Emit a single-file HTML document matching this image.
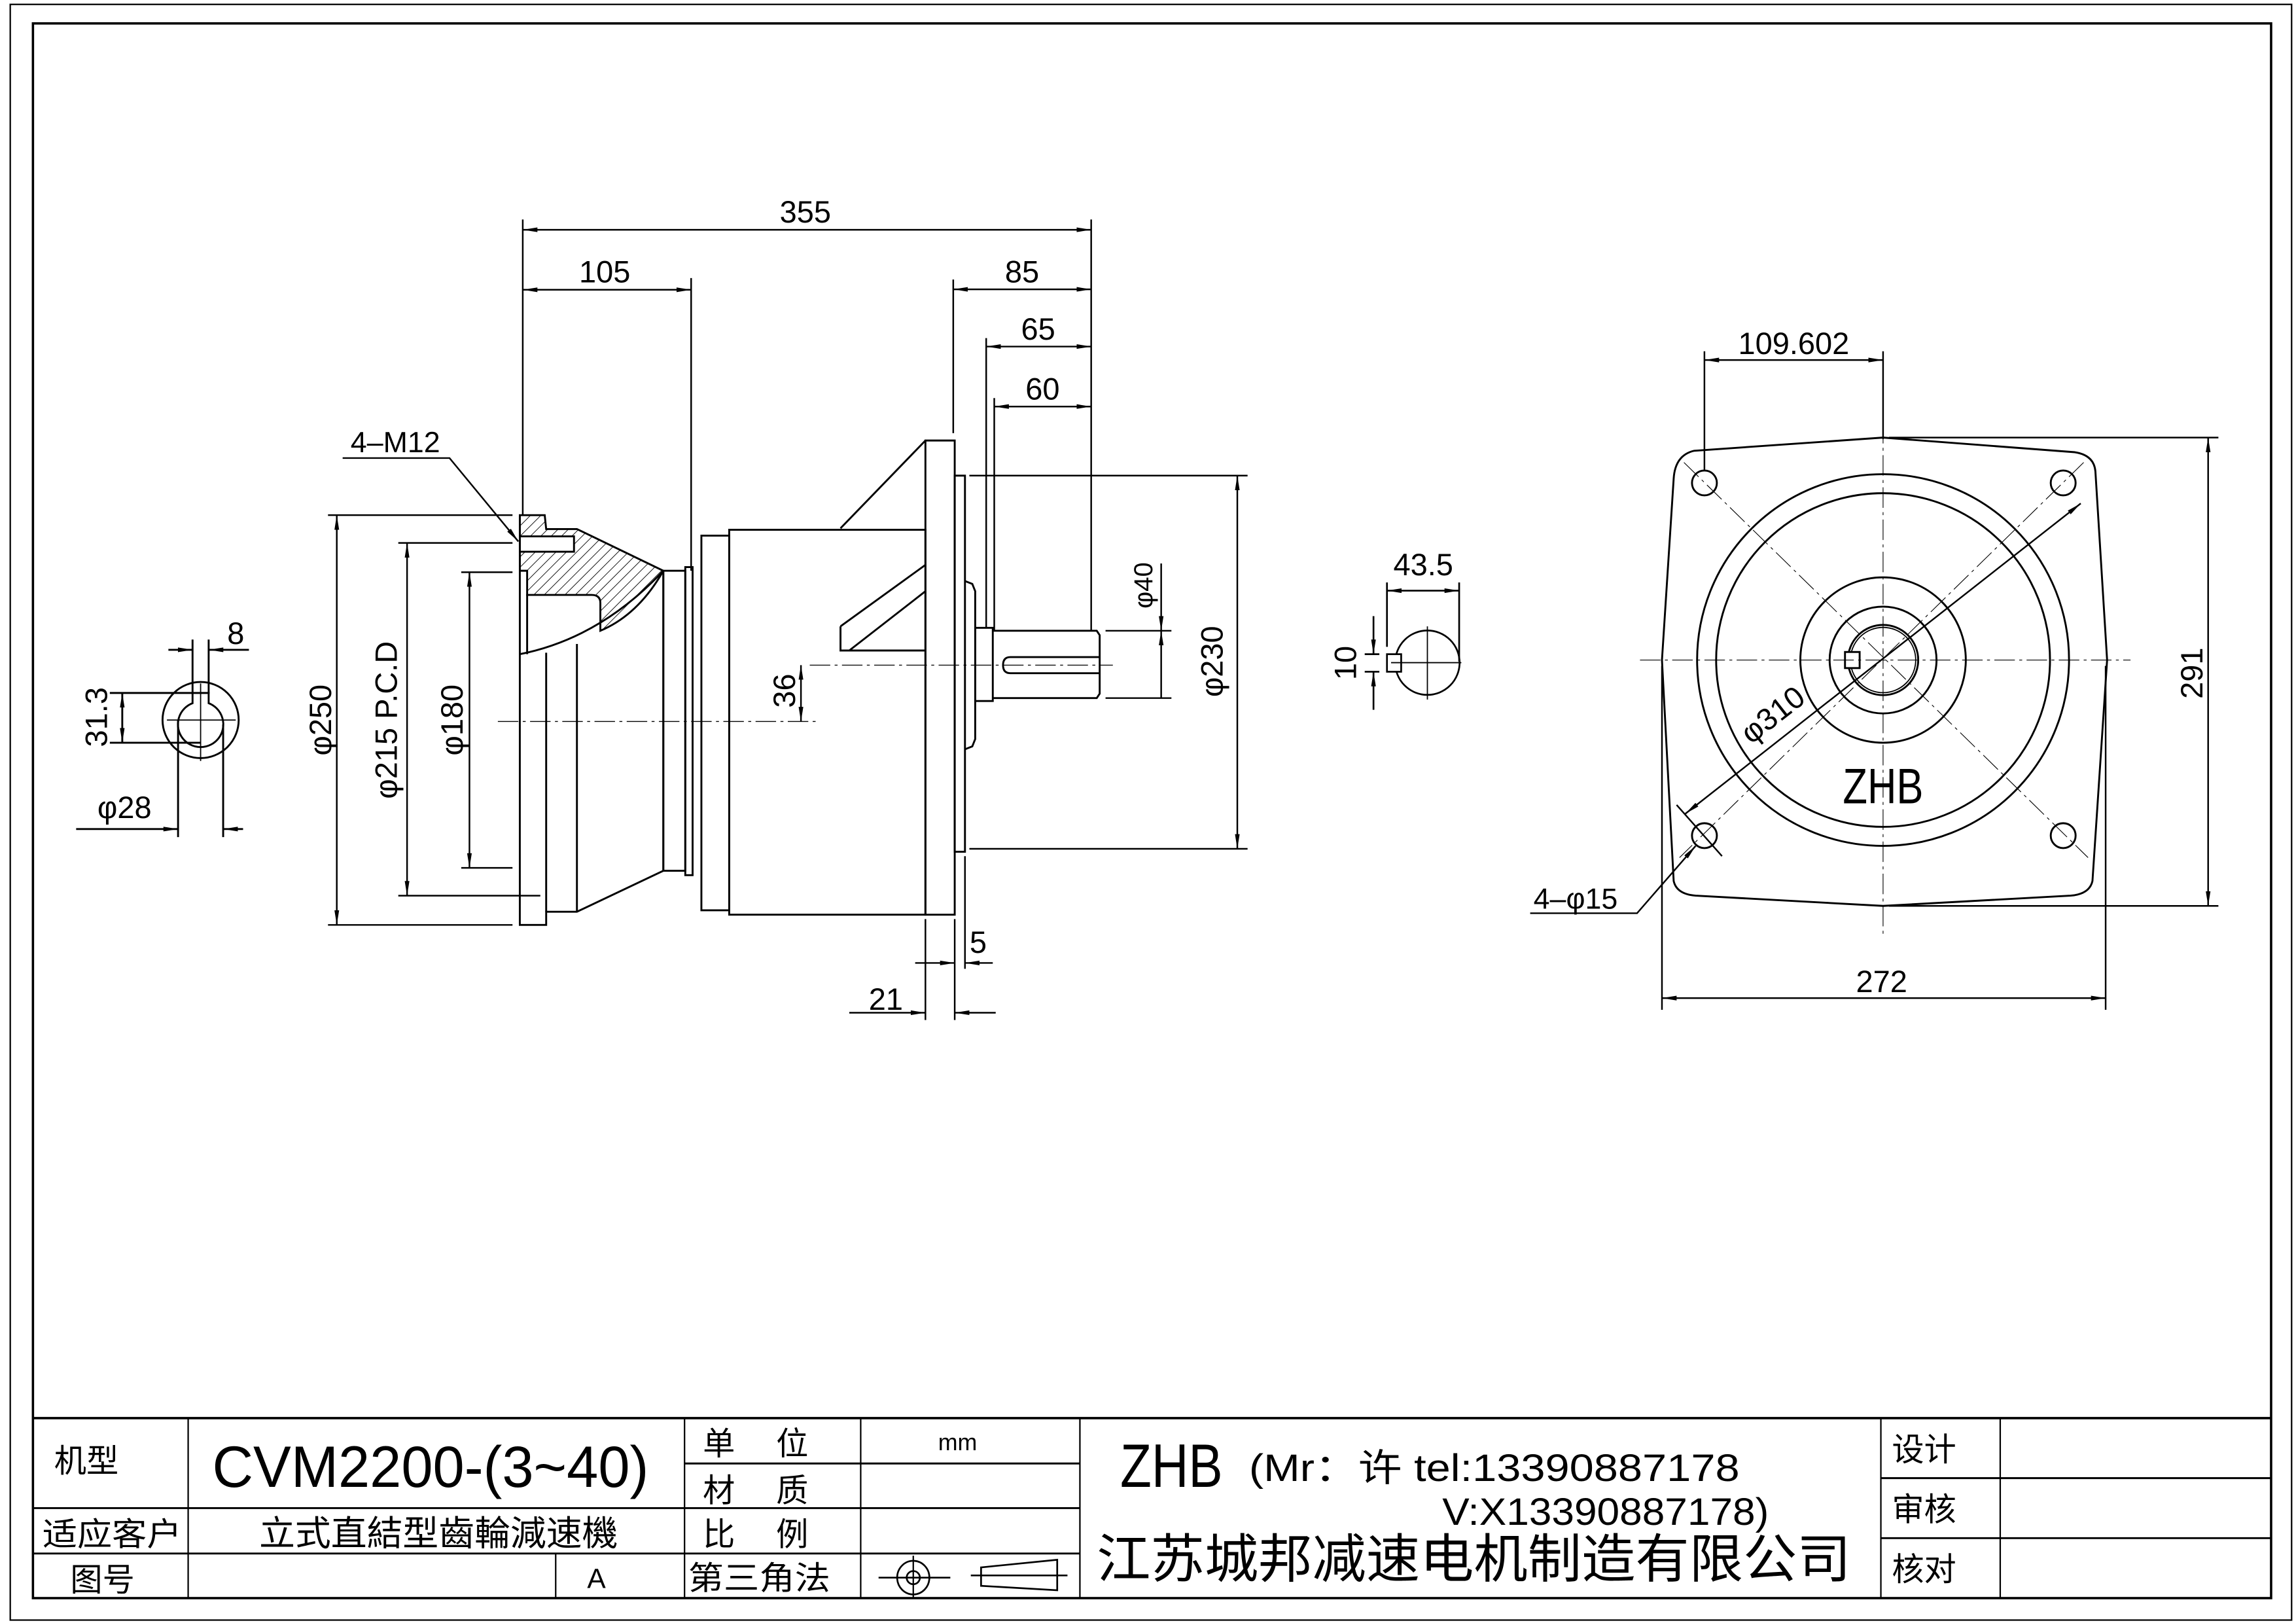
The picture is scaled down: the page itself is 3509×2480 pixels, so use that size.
<!DOCTYPE html>
<html><head><meta charset="utf-8"><style>
html,body{margin:0;padding:0;background:#fff;}
svg{display:block;}
text{font-family:"Liberation Sans","Noto Sans CJK SC",sans-serif;fill:#000;}
</style></head><body>
<svg width="3509" height="2480" viewBox="0 0 1568 1109" preserveAspectRatio="none" xmlns="http://www.w3.org/2000/svg">
<defs>
<marker id="a" viewBox="0 0 10 4" refX="10" refY="2" markerWidth="10" markerHeight="4" markerUnits="userSpaceOnUse" orient="auto-start-reverse"><path d="M0,0.4 L10,2 L0,3.6Z" fill="#000"/></marker>
<pattern id="h" width="5" height="5" patternUnits="userSpaceOnUse" patternTransform="rotate(45)"><line x1="0" y1="0" x2="0" y2="5" stroke="#000" stroke-width="0.8"/></pattern>
</defs>
<rect width="1568" height="1109" fill="#fff"/>
<!-- frames -->
<rect x="7" y="3" width="1558" height="1104" fill="none" stroke="#000" stroke-width="1"/>
<rect x="22.5" y="16" width="1528.5" height="1076" fill="none" stroke="#000" stroke-width="1.6"/>

<!-- title block -->
<g stroke="#000" fill="none">
<line x1="22.5" y1="969" x2="1551" y2="969" stroke-width="1.6"/>
<line x1="22.5" y1="1030.5" x2="737.5" y2="1030.5" stroke-width="1.3"/>
<line x1="22.5" y1="1061.5" x2="737.5" y2="1061.5" stroke-width="1.3"/>
<line x1="467.5" y1="1000" x2="737.5" y2="1000" stroke-width="1.3"/>
<line x1="128.5" y1="969" x2="128.5" y2="1092" stroke-width="1"/>
<line x1="379.5" y1="1061.5" x2="379.5" y2="1092" stroke-width="1"/>
<line x1="467.5" y1="969" x2="467.5" y2="1092" stroke-width="1"/>
<line x1="587.8" y1="969" x2="587.8" y2="1092" stroke-width="1"/>
<line x1="737.5" y1="969" x2="737.5" y2="1092" stroke-width="1"/>
<line x1="1284.5" y1="969" x2="1284.5" y2="1092" stroke-width="1"/>
<line x1="1366" y1="969" x2="1366" y2="1092" stroke-width="1"/>
<line x1="1284.5" y1="1010" x2="1551" y2="1010" stroke-width="1.3"/>
<line x1="1284.5" y1="1051" x2="1551" y2="1051" stroke-width="1.3"/>
<!-- projection symbol -->
<ellipse cx="623.7" cy="1078" rx="11" ry="11.5" stroke-width="1.2"/>
<circle cx="623.7" cy="1078" r="4.5" stroke-width="1.2"/>
<line x1="600" y1="1078" x2="649" y2="1078" stroke-width="1.2"/>
<line x1="623.7" y1="1063" x2="623.7" y2="1092" stroke-width="1"/>
<path d="M670,1071 L722,1065.8 L722,1086.6 L670,1083.6Z" stroke-width="1.2"/>
<line x1="663" y1="1076.5" x2="729" y2="1076.5" stroke-width="1.2"/>
</g>
<g font-size="22">
<text x="37" y="1006">机型</text>
<text x="145" y="1016" font-size="40" textLength="298" lengthAdjust="spacingAndGlyphs">CVM2200-(3~40)</text>
<text x="29" y="1056" textLength="95" lengthAdjust="spacingAndGlyphs">适应客户</text>
<text x="177" y="1056" font-size="24" textLength="245" lengthAdjust="spacingAndGlyphs">立式直結型齒輪減速機</text>
<text x="48" y="1087">图号</text>
<text x="401" y="1085" font-size="19">A</text>
<text x="480" y="994">单</text><text x="530" y="994">位</text>
<text x="480" y="1026">材</text><text x="530" y="1026">质</text>
<text x="480" y="1056">比</text><text x="530" y="1056">例</text>
<text x="470" y="1086" textLength="97" lengthAdjust="spacingAndGlyphs">第三角法</text>
<text x="654" y="991" font-size="16" text-anchor="middle">mm</text>
<text x="765" y="1016" font-size="42" textLength="70" lengthAdjust="spacingAndGlyphs">ZHB</text>
<text x="853" y="1012" font-size="26" textLength="335" lengthAdjust="spacingAndGlyphs">(Mr：许 tel:13390887178</text>
<text x="985" y="1042" font-size="26" textLength="223" lengthAdjust="spacingAndGlyphs">V:X13390887178)</text>
<text x="749" y="1078" font-size="36" textLength="515" lengthAdjust="spacingAndGlyphs">江苏城邦减速电机制造有限公司</text>
<text x="1292" y="998">设计</text>
<text x="1292" y="1039">审核</text>
<text x="1292" y="1080">核对</text>
</g>

<!-- LEFT shaft end view -->
<g stroke="#000" fill="none" stroke-width="1.3">
<circle cx="137" cy="492" r="26"/>
<path d="M131.5,480.5 L131.5,473.5 L142.5,473.5 L142.5,480.5 A15.5,15.5 0 1 1 131.5,480.5Z"/>
<line x1="114" y1="492" x2="161" y2="492" stroke-width="0.8"/>
<line x1="137" y1="467" x2="137" y2="520" stroke-width="0.8"/>
<line x1="131.5" y1="437" x2="131.5" y2="474"/>
<line x1="142.5" y1="437" x2="142.5" y2="474"/>
<line x1="115" y1="444" x2="131.5" y2="444" marker-end="url(#a)"/>
<line x1="170" y1="444" x2="142.5" y2="444" marker-end="url(#a)"/>
<line x1="75" y1="473.5" x2="131" y2="473.5"/>
<line x1="75" y1="507.5" x2="137" y2="507.5"/>
<line x1="83.5" y1="473.5" x2="83.5" y2="507.5" marker-start="url(#a)" marker-end="url(#a)"/>
<line x1="121.6" y1="492" x2="121.6" y2="572"/>
<line x1="152.4" y1="495" x2="152.4" y2="572"/>
<line x1="52" y1="566.5" x2="121.6" y2="566.5" marker-end="url(#a)"/>
<line x1="166" y1="566.5" x2="152.4" y2="566.5" marker-end="url(#a)"/>
</g>
<g font-size="21">
<text x="161" y="440" text-anchor="middle">8</text>
<text transform="translate(73,490) rotate(-90)" text-anchor="middle">31.3</text>
<text x="85" y="559" text-anchor="middle">φ28</text>
</g>

<!-- MIDDLE side view -->
<g stroke="#000" fill="none" stroke-width="1.3">
<!-- hatched section -->
<path d="M355,352 L372,352 L373,361.5 L394,361.5 L453,390 Q436,420 410,431 L410,412 Q410,406.5 404,406.5 L360,406.5 L360,390 L355,390Z" fill="url(#h)"/>
<rect x="355" y="366.5" width="37" height="10.5" fill="#fff"/>
<path d="M453,390 Q410,436 355,447"/>
<!-- left flange -->
<path d="M355,352 L355,632 L373,632 L373,623 L394,623 L453,595 L453,390"/>
<line x1="360" y1="406" x2="360" y2="447"/>
<line x1="373" y1="446" x2="373" y2="623"/>
<line x1="394" y1="440" x2="394" y2="623"/>
<!-- rings -->
<rect x="453" y="390" width="15" height="205"/>
<rect x="468" y="387.5" width="5" height="210.5"/>
<rect x="479" y="366" width="19" height="256"/>
<rect x="498" y="362" width="134" height="263"/>
<!-- right flange -->
<path d="M632,301 L652,301 L652,625 L632,625Z"/>
<line x1="574" y1="361" x2="632" y2="301"/>
<path d="M574,428 L632,386 M574,428 L574,444.5 L632,444.5 M580,444.5 L632,404"/>
<rect x="652" y="325" width="7" height="257"/>
<path d="M659,397 L664,399 L666,404 L666,505 L664,510 L659,512"/>
<rect x="666" y="429" width="12" height="50"/>
<path d="M678,431 L749,431 L751,434 L751,474 L749,477 L678,477"/>
<path d="M690,449 L751,449 M690,460 L751,460 M690,449 Q685,449 685,454.5 Q685,460 690,460"/>
</g>
<!-- centerlines -->
<g stroke="#000" stroke-width="0.6" fill="none" stroke-dasharray="14,3,2,3">
<line x1="340" y1="493" x2="560" y2="493"/>
<line x1="553" y1="454.5" x2="760" y2="454.5"/>
</g>
<!-- middle dims -->
<g stroke="#000" fill="none" stroke-width="1.1">
<line x1="357" y1="150" x2="357" y2="352"/>
<line x1="472" y1="190" x2="472" y2="390"/>
<line x1="651" y1="191" x2="651" y2="296"/>
<line x1="673.5" y1="231" x2="673.5" y2="429"/>
<line x1="679" y1="272" x2="679" y2="431"/>
<line x1="745.2" y1="150" x2="745.2" y2="431"/>
<line x1="357" y1="157" x2="745.2" y2="157" marker-start="url(#a)" marker-end="url(#a)"/>
<line x1="357" y1="198" x2="472" y2="198" marker-start="url(#a)" marker-end="url(#a)"/>
<line x1="651" y1="197.7" x2="745.2" y2="197.7" marker-start="url(#a)" marker-end="url(#a)"/>
<line x1="673.5" y1="236.8" x2="745.2" y2="236.8" marker-start="url(#a)" marker-end="url(#a)"/>
<line x1="679" y1="277.8" x2="745.2" y2="277.8" marker-start="url(#a)" marker-end="url(#a)"/>
<!-- 4-M12 leader -->
<polyline points="234,313 307,313 354,370" marker-end="url(#a)"/>
<!-- diameters left -->
<line x1="224" y1="352" x2="350" y2="352"/>
<line x1="224" y1="632" x2="350" y2="632"/>
<line x1="230" y1="352" x2="230" y2="632" marker-start="url(#a)" marker-end="url(#a)"/>
<line x1="272" y1="371" x2="350" y2="371"/>
<line x1="272" y1="612" x2="369" y2="612"/>
<line x1="278" y1="371" x2="278" y2="612" marker-start="url(#a)" marker-end="url(#a)"/>
<line x1="315" y1="391" x2="350" y2="391"/>
<line x1="315" y1="593" x2="350" y2="593"/>
<line x1="320.6" y1="391" x2="320.6" y2="593" marker-start="url(#a)" marker-end="url(#a)"/>
<!-- 36 -->
<line x1="547" y1="454.5" x2="547" y2="493" marker-start="url(#a)" marker-end="url(#a)"/>
<!-- phi40 -->
<line x1="755" y1="431" x2="800" y2="431"/>
<line x1="755" y1="477" x2="800" y2="477"/>
<line x1="793" y1="385" x2="793" y2="431" marker-end="url(#a)"/>
<line x1="793" y1="477" x2="793" y2="431" marker-end="url(#a)"/>
<!-- phi230 -->
<line x1="662" y1="325" x2="852" y2="325"/>
<line x1="662" y1="580" x2="852" y2="580"/>
<line x1="845" y1="325" x2="845" y2="580" marker-start="url(#a)" marker-end="url(#a)"/>
<!-- 5 and 21 -->
<line x1="632" y1="628" x2="632" y2="697"/>
<line x1="652" y1="628" x2="652" y2="697"/>
<line x1="659" y1="585" x2="659" y2="662"/>
<line x1="625" y1="658" x2="652" y2="658" marker-end="url(#a)"/>
<line x1="678" y1="658" x2="659" y2="658" marker-end="url(#a)"/>
<line x1="580" y1="692" x2="632" y2="692" marker-end="url(#a)"/>
<line x1="680" y1="692" x2="652" y2="692" marker-end="url(#a)"/>
</g>
<g font-size="21" text-anchor="middle">
<text x="550" y="152">355</text>
<text x="413" y="193">105</text>
<text x="698" y="193">85</text>
<text x="709" y="232">65</text>
<text x="712" y="273">60</text>
<text x="270" y="309" font-size="20">4–M12</text>
<text transform="translate(226,492) rotate(-90)">φ250</text>
<text transform="translate(271,492) rotate(-90)">φ215 P.C.D</text>
<text transform="translate(316,492) rotate(-90)">φ180</text>
<text transform="translate(543,472) rotate(-90)">36</text>
<text transform="translate(787,400) rotate(-90)" font-size="18">φ40</text>
<text transform="translate(835,452) rotate(-90)">φ230</text>
<text x="668" y="651">5</text>
<text x="605" y="690">21</text>
</g>

<!-- small keyway view -->
<g stroke="#000" fill="none" stroke-width="1.2">
<circle cx="974.8" cy="452.8" r="22"/>
<rect x="947.2" y="447" width="9.7" height="12" fill="#fff"/>
<line x1="950" y1="452.8" x2="998" y2="452.8" stroke-width="0.8"/>
<line x1="974.8" y1="428" x2="974.8" y2="478" stroke-width="0.8"/>
<line x1="947.2" y1="398" x2="947.2" y2="442"/>
<line x1="996.5" y1="398" x2="996.5" y2="452"/>
<line x1="947.2" y1="403.6" x2="996.5" y2="403.6" marker-start="url(#a)" marker-end="url(#a)"/>
<line x1="932" y1="447" x2="942" y2="447"/>
<line x1="932" y1="459" x2="942" y2="459"/>
<line x1="938" y1="421" x2="938" y2="447" marker-end="url(#a)"/>
<line x1="938" y1="485" x2="938" y2="459" marker-end="url(#a)"/>
</g>
<text x="972" y="393" font-size="21" text-anchor="middle">43.5</text>
<text transform="translate(926,453) rotate(-90)" font-size="21" text-anchor="middle">10</text>

<!-- RIGHT end view -->
<g stroke="#000" fill="none" stroke-width="1.3">
<path d="M1157,308 L1286,299 L1417,309 Q1430,311 1431,322 L1439,451 L1429,602 Q1427,611 1414,612 L1286,619 L1158,612 Q1145,611 1143,602 L1135,451 L1143,327 Q1144,311 1157,308Z"/>
<circle cx="1286" cy="451" r="127"/>
<circle cx="1286" cy="451" r="114"/>
<circle cx="1286" cy="451" r="56.5"/>
<circle cx="1286" cy="451" r="36.5"/>
<circle cx="1286" cy="451" r="24"/>
<circle cx="1286" cy="451" r="22.3" stroke-width="0.8"/>
<rect x="1260" y="445.5" width="10" height="11" fill="#fff"/>
<circle cx="1164" cy="330" r="8.5"/>
<circle cx="1409" cy="330" r="8.5"/>
<circle cx="1164" cy="571" r="8.5"/>
<circle cx="1409" cy="571" r="8.5"/>
</g>
<g stroke="#000" stroke-width="0.5" fill="none" stroke-dasharray="14,3,2,3">
<line x1="1120" y1="451" x2="1455" y2="451"/>
<line x1="1286" y1="245" x2="1286" y2="640"/>
<line x1="1150" y1="316" x2="1426" y2="586"/>
<line x1="1423" y1="316" x2="1147" y2="586"/>
<circle cx="1286" cy="451" r="172" stroke-dasharray="none" opacity="0"/>
</g>
<g stroke="#000" fill="none" stroke-width="1.1">
<line x1="1164" y1="240" x2="1164" y2="322"/>
<line x1="1286" y1="240" x2="1286" y2="300"/>
<line x1="1164" y1="246" x2="1286" y2="246" marker-start="url(#a)" marker-end="url(#a)"/>
<line x1="1290" y1="299" x2="1515" y2="299"/>
<line x1="1290" y1="619" x2="1515" y2="619"/>
<line x1="1508" y1="299" x2="1508" y2="619" marker-start="url(#a)" marker-end="url(#a)"/>
<line x1="1135" y1="455" x2="1135" y2="690"/>
<line x1="1438" y1="455" x2="1438" y2="690"/>
<line x1="1135" y1="682" x2="1438" y2="682" marker-start="url(#a)" marker-end="url(#a)"/>
<line x1="1151" y1="556" x2="1421" y2="344" marker-start="url(#a)" marker-end="url(#a)"/>
<line x1="1145" y1="550" x2="1176" y2="585"/>
<polyline points="1045,624 1118,624 1158,578" marker-end="url(#a)"/>
</g>
<g font-size="21" text-anchor="middle">
<text x="1225" y="242">109.602</text>
<text transform="translate(1504,460) rotate(-90)">291</text>
<text x="1285" y="678">272</text>
<text transform="translate(1215,494) rotate(-38)">φ310</text>
<text x="1076" y="621" font-size="20">4–φ15</text>
<text x="1286" y="549" font-size="34" textLength="55" lengthAdjust="spacingAndGlyphs">ZHB</text>
</g>
</svg>
</body></html>
